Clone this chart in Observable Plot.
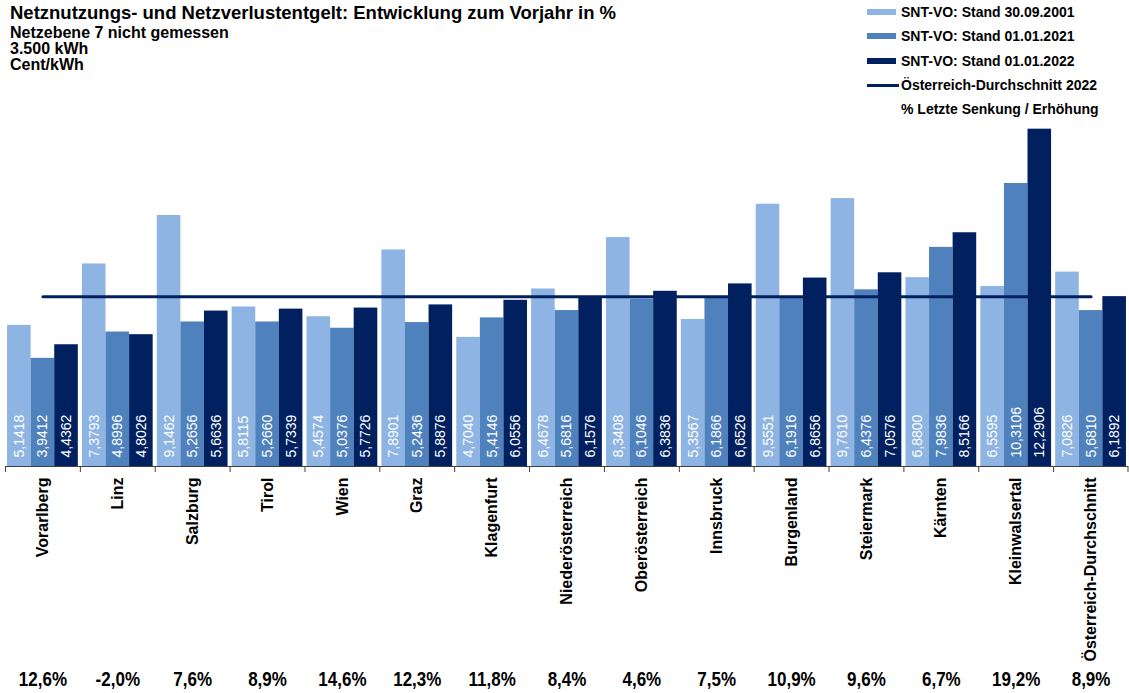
<!DOCTYPE html>
<html>
<head>
<meta charset="utf-8">
<script src="https://cdn.jsdelivr.net/npm/d3@7"></script>
<script src="https://cdn.jsdelivr.net/npm/@observablehq/plot@0.6"></script>
<style>
  html, body { margin: 0; padding: 0; background: #fff; }
  body { font-family: "Liberation Sans", Arial, sans-serif; }
  #wrap { position: relative; width: 1129px; height: 693px; overflow: hidden; }
  #chart svg { display: block; }
  #title { position: absolute; left: 10px; top: 0; font-weight: bold; color: #000; }
  #title .t { font-size: 18.5px; line-height: 25px; }
  #title .s { font-size: 16px; line-height: 16px; }
  #legend { position: absolute; left: 867px; top: 0; font-weight: bold; font-size: 14px; color: #000; }
  #legend .row { display: flex; align-items: center; height: 24.3px; }
  #legend .sw { width: 29px; height: 6px; margin-right: 5px; }
  #legend .ln { width: 32px; height: 3px; margin-right: 2px; }
  #legend .none { width: 34px; }
</style>
</head>
<body>
<div id="wrap">
  <div id="chart"></div>
  <div id="title"></div>
  <div id="legend"></div>
</div>
<script>
// ---------- data ----------
const titleText = "Netznutzungs- und Netzverlustentgelt: Entwicklung zum Vorjahr in %";
const subtitleLines = ["Netzebene 7 nicht gemessen", "3.500 kWh", "Cent/kWh"];

const regions = ["Vorarlberg", "Linz", "Salzburg", "Tirol", "Wien", "Graz", "Klagenfurt",
  "Niederösterreich", "Oberösterreich", "Innsbruck", "Burgenland", "Steiermark", "Kärnten",
  "Kleinwalsertal", "Österreich-Durchschnitt"];

const seriesNames = ["SNT-VO: Stand 30.09.2001", "SNT-VO: Stand 01.01.2021", "SNT-VO: Stand 01.01.2022"];

const values2001 = [5.1418, 7.3793, 9.1462, 5.8115, 5.4574, 7.8901, 4.7040, 6.4678, 8.3408, 5.3567, 9.5551, 9.7610, 6.8800, 6.5595, 7.0826];
const values2021 = [3.9412, 4.8996, 5.2656, 5.2660, 5.0376, 5.2436, 5.4146, 5.6816, 6.1046, 6.1866, 6.1916, 6.4376, 7.9836, 10.3106, 5.6810];
const values2022 = [4.4362, 4.8026, 5.6636, 5.7339, 5.7726, 5.8876, 6.0556, 6.1576, 6.3836, 6.6526, 6.8656, 7.0576, 8.5166, 12.2906, 6.1892];

const changeLabels = ["12,6%", "-2,0%", "7,6%", "8,9%", "14,6%", "12,3%", "11,8%", "8,4%", "4,6%", "7,5%", "10,9%", "9,6%", "6,7%", "19,2%", "8,9%"];

const averageName = "Österreich-Durchschnitt 2022";
const averageRegion = "Österreich-Durchschnitt";
const changeLegendText = "% Letzte Senkung / Erhöhung";

// ---------- styles ----------
const colors = ["#8DB4E2", "#4F81BD", "#002060"];
const W = 1129, H = 693;
const ML = 5, MR = 1, MT = 109.2, MB = 227;
const pad = 0.055;
const step = (W - ML - MR) / regions.length;
const bw = step * (1 - pad);
const sub = bw / 3;

// ---------- table ----------
const seriesValues = [values2001, values2021, values2022];
const rows = [];
seriesValues.forEach((vals, k) => vals.forEach((v, i) => rows.push({region: regions[i], series: seriesNames[k], k, value: v})));
const avgValue = values2022[regions.indexOf(averageRegion)];
const fmt = v => v.toFixed(4).replace(".", ",");

const marks = [];
seriesNames.forEach((s, k) => {
  const sel = rows.filter(r => r.k === k);
  marks.push(Plot.barY(sel, {x: "region", y: "value", fill: colors[k], insetLeft: k * sub, insetRight: (2 - k) * sub}));
});
// average line (drawn over bars, from first to last category centre)
marks.push(Plot.lineY(regions, {x: d => d, y: () => avgValue, stroke: "#002060", strokeWidth: 3}));
// value labels inside bars
seriesNames.forEach((s, k) => {
  const sel = rows.filter(r => r.k === k);
  marks.push(Plot.text(sel, {x: "region", y: 0, text: d => fmt(d.value), rotate: -90, textAnchor: "start", lineAnchor: "middle",
    dx: (k - 1) * sub, dy: -9, fill: "white", fontSize: 14, fontFamily: "Liberation Sans, Arial, sans-serif"}));
});
// baseline + category boundary ticks
marks.push(Plot.ruleY([0], {stroke: "#404040", strokeWidth: 1}));
marks.push(Plot.ruleX(regions, {x: d => d, y1: 0, dx: -step / 2, insetBottom: -6, stroke: "#404040"}));
marks.push(Plot.ruleX([regions[regions.length - 1]], {x: d => d, y1: 0, dx: step / 2 - 0.5, insetBottom: -6, stroke: "#404040"}));
// category labels
marks.push(Plot.text(regions, {x: d => d, frameAnchor: "bottom", text: d => d, rotate: -90, textAnchor: "end", lineAnchor: "middle",
  dy: 11, fontWeight: "bold", fontSize: 16, fill: "#000", fontFamily: "Liberation Sans, Arial, sans-serif"}));
// change labels
marks.push(Plot.text(changeLabels, {x: (d, i) => regions[i], frameAnchor: "bottom", text: d => d, dy: 213, lineAnchor: "middle",
  fontWeight: "bold", fontSize: 20, fill: "#000", ariaDescription: "changes",
  fontFamily: "Liberation Sans Narrow, Arial Narrow, Liberation Sans, sans-serif"}));

const chart = Plot.plot({
  width: W, height: H,
  marginLeft: ML, marginRight: MR, marginTop: MT, marginBottom: MB,
  x: {domain: regions, paddingInner: pad, paddingOuter: pad / 2, round: false, axis: null},
  y: {domain: [0, 13], axis: null},
  style: {background: "white", overflow: "visible"},
  marks
});
document.getElementById("chart").appendChild(chart);
// condense the change labels (Arial Narrow look)
chart.querySelectorAll('g[aria-description="changes"] text').forEach(el => {
  const tr = el.getAttribute("transform") || "";
  el.setAttribute("transform", tr + " scale(0.85,1)");
});

// ---------- title ----------
const titleEl = document.getElementById("title");
const t = document.createElement("div"); t.className = "t"; t.textContent = titleText; titleEl.appendChild(t);
subtitleLines.forEach(s => { const d = document.createElement("div"); d.className = "s"; d.textContent = s; titleEl.appendChild(d); });

// ---------- legend ----------
const legendEl = document.getElementById("legend");
seriesNames.forEach((s, k) => {
  const row = document.createElement("div"); row.className = "row";
  const sw = document.createElement("div"); sw.className = "sw"; sw.style.background = colors[k];
  const tx = document.createElement("span"); tx.textContent = s;
  row.appendChild(sw); row.appendChild(tx); legendEl.appendChild(row);
});
{
  const row = document.createElement("div"); row.className = "row";
  const sw = document.createElement("div"); sw.className = "ln"; sw.style.background = "#002060";
  const tx = document.createElement("span"); tx.textContent = averageName;
  row.appendChild(sw); row.appendChild(tx); legendEl.appendChild(row);
}
{
  const row = document.createElement("div"); row.className = "row";
  const sw = document.createElement("div"); sw.className = "none";
  const tx = document.createElement("span"); tx.textContent = changeLegendText;
  row.appendChild(sw); row.appendChild(tx); legendEl.appendChild(row);
}
</script>
</body>
</html>
